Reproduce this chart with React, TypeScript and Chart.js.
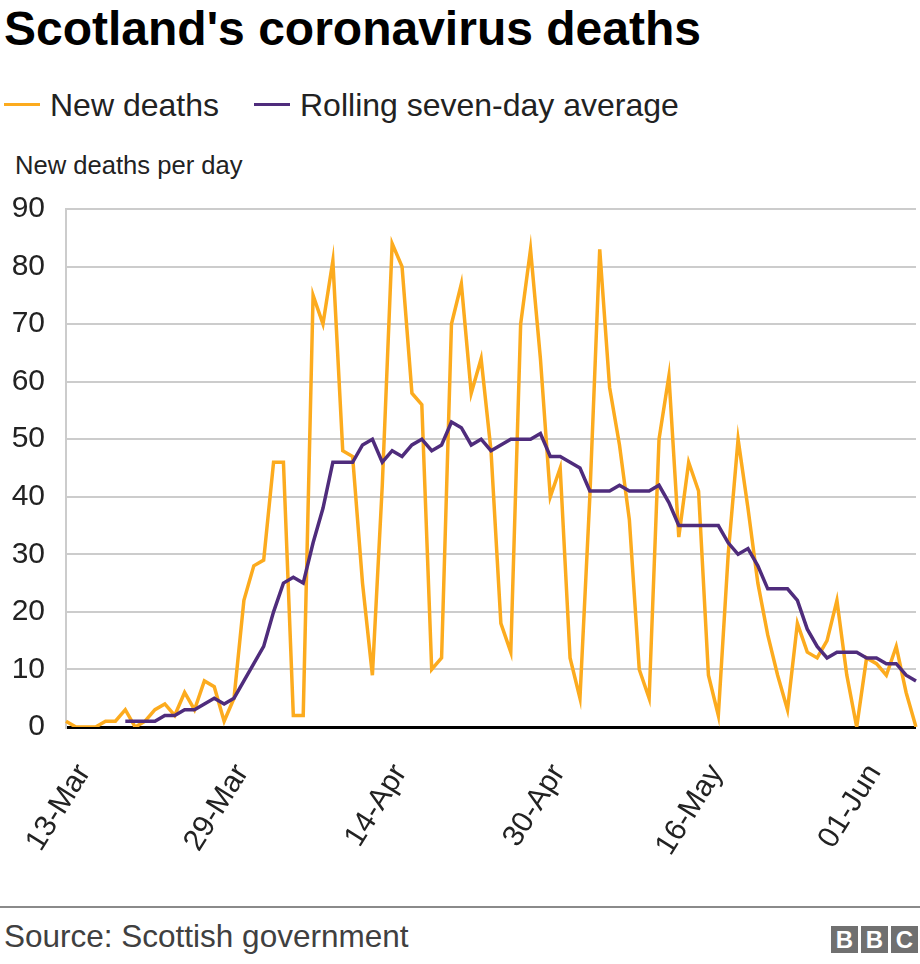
import React, { useEffect, useRef } from "react";
import { Chart, registerables } from "chart.js";

Chart.register(...registerables);

const FONT = '"Liberation Sans", Arial, Helvetica, sans-serif';
const ORANGE = "#fcab1e";
const PURPLE = "#4f2c7c";

const days = [
  "13-Mar", "14-Mar", "15-Mar", "16-Mar", "17-Mar", "18-Mar", "19-Mar", "20-Mar", "21-Mar", "22-Mar",
  "23-Mar", "24-Mar", "25-Mar", "26-Mar", "27-Mar", "28-Mar", "29-Mar", "30-Mar", "31-Mar",
  "01-Apr", "02-Apr", "03-Apr", "04-Apr", "05-Apr", "06-Apr", "07-Apr", "08-Apr", "09-Apr", "10-Apr",
  "11-Apr", "12-Apr", "13-Apr", "14-Apr", "15-Apr", "16-Apr", "17-Apr", "18-Apr", "19-Apr", "20-Apr",
  "21-Apr", "22-Apr", "23-Apr", "24-Apr", "25-Apr", "26-Apr", "27-Apr", "28-Apr", "29-Apr", "30-Apr",
  "01-May", "02-May", "03-May", "04-May", "05-May", "06-May", "07-May", "08-May", "09-May", "10-May",
  "11-May", "12-May", "13-May", "14-May", "15-May", "16-May", "17-May", "18-May", "19-May", "20-May",
  "21-May", "22-May", "23-May", "24-May", "25-May", "26-May", "27-May", "28-May", "29-May", "30-May",
  "31-May", "01-Jun", "02-Jun", "03-Jun", "04-Jun", "05-Jun", "06-Jun", "07-Jun",
];

const shownDateTicks = ["13-Mar", "29-Mar", "14-Apr", "30-Apr", "16-May", "01-Jun"];

const newDeaths = [
  1, 0, 0, 0, 1, 1, 3, 0, 1, 3,
  4, 2, 6, 3, 8, 7, 1, 5, 22, 28,
  29, 46, 46, 2, 2, 75, 70, 81, 48, 47,
  25, 9, 42, 84, 80, 58, 56, 10, 12, 70,
  77, 58, 64, 48, 18, 13, 70, 83, 64, 40,
  45, 12, 5, 40, 83, 59, 49, 36, 10, 5,
  50, 61, 33, 46, 41, 9, 2, 30, 50, 38,
  25, 16, 9, 3, 18, 13, 12, 15, 22, 9,
  0, 12, 11, 9, 14, 6, 0,
];

const rollingAverage = [
  null, null, null, null, null, null,
  1, 1, 1, 1, 2, 2, 3, 3, 4, 5,
  4, 5, 8, 11, 14, 20, 25, 26, 25, 32,
  38, 46, 46, 46, 49, 50, 46, 48, 47, 49,
  50, 48, 49, 53, 52, 49, 50, 48, 49, 50,
  50, 50, 51, 47, 47, 46, 45, 41, 41, 41,
  42, 41, 41, 41, 42, 39, 35, 35, 35, 35,
  35, 32, 30, 31, 28, 24, 24, 24, 22, 17,
  14, 12, 13, 13, 13, 12, 12, 11, 11, 9, 8,
];

const yMin = 0;
const yMax = 90;
const yStep = 10;

function textTop(baseline: number, fs: number) {
  return baseline - fs * 0.8465;
}

export default function App() {
  const canvasRef = useRef<HTMLCanvasElement>(null);

  useEffect(() => {
    const canvas = canvasRef.current;
    if (!canvas) return;
    const chart = new Chart(canvas, {
      type: "line",
      data: {
        labels: days,
        datasets: [
          {
            label: "New deaths",
            data: newDeaths,
            borderColor: ORANGE,
            backgroundColor: ORANGE,
            borderWidth: 3.5,
            pointRadius: 0,
            tension: 0,
            borderJoinStyle: "miter",
            order: 1,
          },
          {
            label: "Rolling seven-day average",
            data: rollingAverage,
            borderColor: PURPLE,
            backgroundColor: PURPLE,
            borderWidth: 3.5,
            pointRadius: 0,
            tension: 0,
            borderJoinStyle: "miter",
            order: 0,
          },
        ],
      },
      options: {
        responsive: false,
        animation: false,
        layout: { padding: { top: 19, right: 4, left: 0, bottom: 0 } },
        plugins: {
          legend: { display: false },
          tooltip: { enabled: false },
        },
        scales: {
          x: {
            type: "category",
            offset: false,
            grid: { display: false, drawTicks: false },
            border: { display: false },
            ticks: {
              autoSkip: false,
              minRotation: 58,
              maxRotation: 58,
              padding: 31,
              labelOffset: 18,
              color: "#222222",
              font: { family: FONT, size: 30 },
              callback: (_v: any, i: number) =>
                shownDateTicks.includes(days[i]) ? days[i] : null,
            },
            afterFit: (s: any) => {
              s.height = 173;
              s.paddingLeft = 0;
              s.paddingRight = 0;
            },
          },
          y: {
            min: yMin,
            max: yMax,
            grid: {
              drawTicks: false,
              color: (c: any) => (c.tick && c.tick.value === 0 ? "#000000" : "#cccccc"),
              lineWidth: (c: any) => (c.tick && c.tick.value === 0 ? 3 : 2),
            },
            border: { display: true, color: "#cccccc", width: 2 },
            ticks: {
              stepSize: yStep,
              padding: 21,
              color: "#222222",
              font: { family: FONT, size: 30 },
            },
            afterFit: (s: any) => {
              s.width = 66;
              s.paddingTop = 0;
              s.paddingBottom = 0;
            },
          },
        },
      },
    });
    return () => chart.destroy();
  }, []);

  const abs = (o: React.CSSProperties): React.CSSProperties => ({
    position: "absolute",
    whiteSpace: "nowrap",
    lineHeight: 1,
    fontFamily: FONT,
    ...o,
  });

  return (
    <div
      style={{
        position: "absolute",
        left: 0,
        top: 0,
        width: 920,
        height: 964,
        background: "#ffffff",
        overflow: "hidden",
        fontFamily: FONT,
      }}
    >
      <div style={abs({ left: 4, top: textTop(46, 48), fontSize: 48, fontWeight: 700, color: "#000" })}>
        Scotland's coronavirus deaths
      </div>

      <div style={{ position: "absolute", left: 4, top: 103, width: 36, height: 3, background: ORANGE }} />
      <div style={abs({ left: 50, top: textTop(116, 32), fontSize: 32, color: "#222" })}>New deaths</div>
      <div style={{ position: "absolute", left: 254, top: 103, width: 36, height: 3, background: PURPLE }} />
      <div style={abs({ left: 300, top: textTop(116, 32), fontSize: 32, color: "#222" })}>
        Rolling seven-day average
      </div>

      <div style={abs({ left: 15, top: textTop(175, 25.6), fontSize: 25.6, color: "#222" })}>
        New deaths per day
      </div>

      <canvas
        ref={canvasRef}
        width={920}
        height={710}
        style={{ position: "absolute", left: 0, top: 190, width: 920, height: 710 }}
      />

      <div style={{ position: "absolute", left: 0, top: 906, width: 920, height: 2, background: "#8a8a8a" }} />
      <div style={abs({ left: 4, top: textTop(948, 31.5), fontSize: 31.5, color: "#404040" })}>
        Source: Scottish government
      </div>

      {["B", "B", "C"].map((ch, i) => (
        <div
          key={i}
          style={{
            position: "absolute",
            left: 831 + i * 30,
            top: 926,
            width: 27,
            height: 27,
            background: "#707070",
            color: "#fff",
            fontFamily: FONT,
            fontWeight: 700,
            fontSize: 24,
            lineHeight: "27px",
            textAlign: "center",
          }}
        >
          {ch}
        </div>
      ))}
    </div>
  );
}
